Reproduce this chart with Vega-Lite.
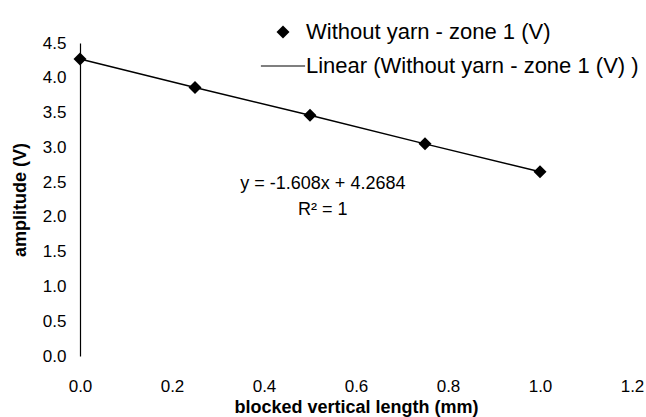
{
  "$schema": "https://vega.github.io/schema/vega-lite/v6.json",
  "width": 552,
  "height": 313,
  "autosize": {"type": "none"},
  "padding": {"left": 80, "top": 43, "right": 14, "bottom": 61},
  "background": "white",
  "config": {
    "view": {"stroke": null},
    "font": "Liberation Sans"
  },
  "layer": [
    {
      "data": {
        "values": [
          {"length": 0.0, "amplitude": 4.27, "series": "Without yarn - zone 1 (V)"},
          {"length": 0.25, "amplitude": 3.86, "series": "Without yarn - zone 1 (V)"},
          {"length": 0.5, "amplitude": 3.46, "series": "Without yarn - zone 1 (V)"},
          {"length": 0.75, "amplitude": 3.05, "series": "Without yarn - zone 1 (V)"},
          {"length": 1.0, "amplitude": 2.65, "series": "Without yarn - zone 1 (V)"}
        ]
      },
      "encoding": {
        "x": {
          "field": "length", "type": "quantitative",
          "scale": {"domain": [0, 1.2], "nice": false},
          "axis": {
            "title": "blocked vertical length (mm)",
            "values": [0, 0.2, 0.4, 0.6, 0.8, 1.0, 1.2],
            "format": ".1f",
            "domain": false, "ticks": false, "tickSize": 0, "grid": false,
            "labelFontSize": 17, "labelColor": "black", "labelPadding": 22,
            "labelFont": "Liberation Sans", "labelFlush": false, "labelOverlap": false,
            "titleFontSize": 18, "titleFontWeight": "bold", "titleColor": "black",
            "titleFont": "Liberation Sans", "titlePadding": 4
          }
        },
        "y": {
          "field": "amplitude", "type": "quantitative",
          "scale": {"domain": [0, 4.5], "nice": false},
          "axis": {
            "title": "amplitude (V)",
            "values": [0, 0.5, 1, 1.5, 2, 2.5, 3, 3.5, 4, 4.5],
            "format": ".1f",
            "domain": true, "domainColor": "black", "domainWidth": 1.2,
            "ticks": false, "tickSize": 0, "grid": false,
            "labelFontSize": 17, "labelColor": "black", "labelPadding": 14,
            "labelFont": "Liberation Sans", "labelFlush": false, "labelOverlap": false,
            "titleFontSize": 18, "titleFontWeight": "bold", "titleColor": "black",
            "titleFont": "Liberation Sans", "titlePadding": 13
          }
        }
      },
      "layer": [
        {
          "mark": {"type": "line", "color": "black", "strokeWidth": 1.5}
        },
        {
          "mark": {"type": "point", "filled": true, "color": "black", "size": 169, "opacity": 1},
          "encoding": {
            "shape": {
              "field": "series", "type": "nominal",
              "scale": {
                "domain": ["Without yarn - zone 1 (V)", "Linear (Without yarn - zone 1 (V) )"],
                "range": ["diamond", "M-3.4,-0.09L3.4,-0.09L3.4,0.09L-3.4,0.09Z"]
              },
              "legend": {
                "title": null,
                "orient": "none",
                "legendX": 192,
                "legendY": -22,
                "padding": 0,
                "symbolSize": 169,
                "labelFontSize": 22,
                "labelFont": "Liberation Sans",
                "labelColor": "black",
                "labelLimit": 600,
                "labelOffset": 12,
                "rowPadding": 12,
                "symbolFillColor": "black",
                "symbolStrokeColor": "black",
                "symbolStrokeWidth": 0.5,
                "symbolOpacity": 1
              }
            }
          }
        }
      ]
    },
    {
      "data": {"values": [{"label": "y = -1.608x + 4.2684", "px": 0.528, "py": 2.47}, {"label": "R² = 1", "px": 0.528, "py": 2.1}]},
      "mark": {"type": "text", "fontSize": 18, "fill": "black", "font": "Liberation Sans", "align": "center", "baseline": "middle"},
      "encoding": {
        "x": {
          "field": "px", "type": "quantitative",
          "axis": {
            "title": "blocked vertical length (mm)",
            "values": [0, 0.2, 0.4, 0.6, 0.8, 1.0, 1.2],
            "format": ".1f",
            "domain": false, "ticks": false, "tickSize": 0, "grid": false,
            "labelFontSize": 17, "labelColor": "black", "labelPadding": 22,
            "labelFont": "Liberation Sans", "labelFlush": false, "labelOverlap": false,
            "titleFontSize": 18, "titleFontWeight": "bold", "titleColor": "black",
            "titleFont": "Liberation Sans", "titlePadding": 4
          }
        },
        "y": {
          "field": "py", "type": "quantitative",
          "axis": {
            "title": "amplitude (V)",
            "values": [0, 0.5, 1, 1.5, 2, 2.5, 3, 3.5, 4, 4.5],
            "format": ".1f",
            "domain": true, "domainColor": "black", "domainWidth": 1.2,
            "ticks": false, "tickSize": 0, "grid": false,
            "labelFontSize": 17, "labelColor": "black", "labelPadding": 14,
            "labelFont": "Liberation Sans", "labelFlush": false, "labelOverlap": false,
            "titleFontSize": 18, "titleFontWeight": "bold", "titleColor": "black",
            "titleFont": "Liberation Sans", "titlePadding": 13
          }
        },
        "text": {"field": "label"}
      }
    }
  ]
}
